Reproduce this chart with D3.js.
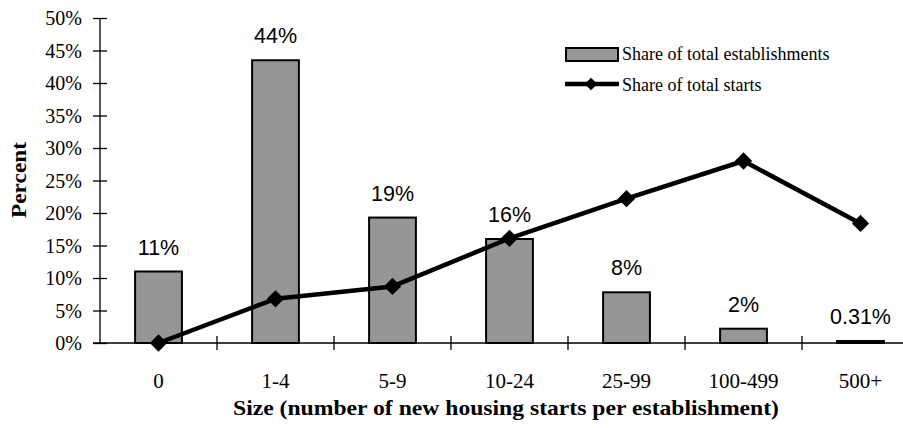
<!DOCTYPE html>
<html>
<head>
<meta charset="utf-8">
<script src="https://cdn.jsdelivr.net/npm/d3@7"></script>
<style>
  html, body { margin: 0; padding: 0; background: #fff; }
  svg { display: block; }
</style>
</head>
<body>
<svg id="chart" width="903" height="428"></svg>
<script>
const categories = ["0", "1-4", "5-9", "10-24", "25-99", "100-499", "500+"];
const establishments = [11.0, 43.5, 19.3, 16.0, 7.8, 2.2, 0.31];
const establishmentLabels = ["11%", "44%", "19%", "16%", "8%", "2%", "0.31%"];
const starts = [0.0, 6.8, 8.7, 16.1, 22.2, 28.0, 18.4];
const yTicks = [0, 5, 10, 15, 20, 25, 30, 35, 40, 45, 50];
const seriesNames = ["Share of total establishments", "Share of total starts"];

const svg = d3.select("#chart");
const serif = "'Liberation Serif', 'Times New Roman', serif";
const sans = "'Liberation Sans', Arial, sans-serif";

const x = d3.scaleBand().domain(categories).range([100, 919]).paddingInner(0).paddingOuter(0);
const y = d3.scaleLinear().domain([0, 50]).range([343, 18]);
const barW = x.bandwidth() * 0.4;

// Bars
svg.append("g").selectAll("rect").data(categories).join("rect")
  .attr("x", (d) => x(d) + (x.bandwidth() - barW) / 2)
  .attr("y", (d, i) => y(establishments[i]))
  .attr("width", barW)
  .attr("height", (d, i) => y(0) - y(establishments[i]))
  .attr("fill", "#969696")
  .attr("stroke", "#000")
  .attr("stroke-width", 2);

// Y axis
const yAxis = d3.axisLeft(y).tickValues(yTicks).tickFormat(d => d + "%").tickSize(7).tickPadding(11);
const gy = svg.append("g").attr("transform", "translate(100,0)").call(yAxis);
gy.select(".domain").attr("d", "M0,18V343").attr("stroke", "#000").attr("stroke-width", 1.3);
gy.selectAll(".tick line").attr("x1", 7).attr("x2", -7).attr("stroke", "#000").attr("stroke-width", 1.3);
gy.selectAll(".tick text").attr("font-family", serif).attr("font-size", 20).attr("fill", "#000").attr("dy", "0.34em");

// X axis
const xAxis = d3.axisBottom(x).tickSize(0).tickPadding(0);
const gx = svg.append("g").attr("transform", `translate(0,${y(0)})`).call(xAxis);
gx.select(".domain").attr("d", "M93,0H919").attr("stroke", "#000").attr("stroke-width", 1.3);
gx.selectAll(".tick line").remove();
gx.selectAll(".tick text").attr("font-family", serif).attr("font-size", 21).attr("fill", "#000")
  .attr("y", 45).attr("dy", 0);
// category separators
svg.append("g").selectAll("line").data(categories.slice(1)).join("line")
  .attr("x1", d => x(d)).attr("x2", d => x(d))
  .attr("y1", y(0) - 7).attr("y2", y(0) + 7)
  .attr("stroke", "#000").attr("stroke-width", 1.3);

// Line series
const line = d3.line().x((d, i) => x(categories[i]) + x.bandwidth() / 2).y(d => y(d));
svg.append("path").datum(starts).attr("d", line)
  .attr("fill", "none").attr("stroke", "#000").attr("stroke-width", 4.5).attr("stroke-linejoin", "round");
const diamond = d3.symbol().type(d3.symbolDiamond2).size(190);
svg.append("g").selectAll("path").data(starts).join("path")
  .attr("transform", (d, i) => `translate(${x(categories[i]) + x.bandwidth() / 2},${y(d)})`)
  .attr("d", diamond).attr("fill", "#000");

// Data labels
svg.append("g").selectAll("text").data(categories).join("text")
  .attr("x", d => x(d) + x.bandwidth() / 2)
  .attr("y", (d, i) => y(establishments[i]) - 17)
  .attr("text-anchor", "middle")
  .attr("font-family", sans).attr("font-size", 21.5).attr("fill", "#000")
  .text((d, i) => establishmentLabels[i]);

// Axis titles
svg.append("text").attr("x", 506).attr("y", 415).attr("text-anchor", "middle")
  .attr("font-family", serif).attr("font-size", 22).attr("font-weight", "bold")
  .attr("textLength", 546).attr("lengthAdjust", "spacingAndGlyphs")
  .text("Size (number of new housing starts per establishment)");
svg.append("text").attr("transform", "translate(26,180) rotate(-90)").attr("text-anchor", "middle")
  .attr("font-family", serif).attr("font-size", 22).attr("font-weight", "bold")
  .attr("textLength", 76).attr("lengthAdjust", "spacingAndGlyphs")
  .text("Percent");

// Legend
const lg = svg.append("g");
lg.append("rect").attr("x", 566).attr("y", 48).attr("width", 52).attr("height", 13)
  .attr("fill", "#969696").attr("stroke", "#000").attr("stroke-width", 2);
lg.append("text").attr("x", 622).attr("y", 60).attr("font-family", serif).attr("font-size", 18)
  .text(seriesNames[0]);
lg.append("line").attr("x1", 565).attr("x2", 619).attr("y1", 84).attr("y2", 84)
  .attr("stroke", "#000").attr("stroke-width", 4.5);
lg.append("path").attr("transform", "translate(591,84)")
  .attr("d", d3.symbol().type(d3.symbolDiamond2).size(100)).attr("fill", "#000");
lg.append("text").attr("x", 622).attr("y", 91).attr("font-family", serif).attr("font-size", 18)
  .text(seriesNames[1]);
</script>
</body>
</html>
